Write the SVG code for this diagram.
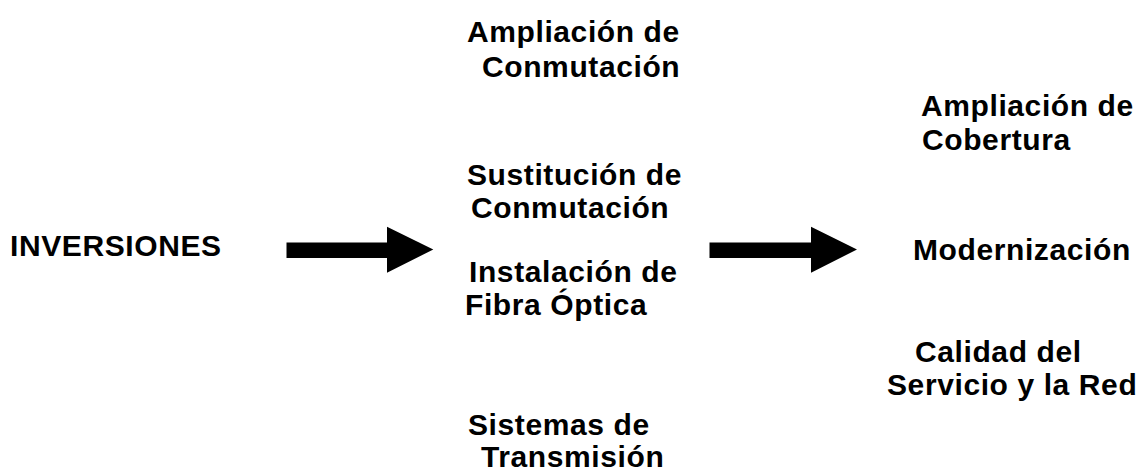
<svg xmlns="http://www.w3.org/2000/svg" width="1138" height="473" viewBox="0 0 1138 473">
<style>
text{font-family:"Liberation Sans",Arial,sans-serif;font-weight:bold;font-size:30px;letter-spacing:0.6px;fill:#000}
.arrow{fill:#000}
</style>
<rect width="1138" height="473" fill="#fff"/>
<g id="inversiones"><text x="10" y="256">INVERSIONES</text></g>
<g id="ampliacion-conmutacion"><text x="467" y="42">Ampliación de</text><text x="482" y="77">Conmutación</text></g>
<g id="sustitucion-conmutacion"><text x="467" y="185">Sustitución de</text><text x="471" y="218">Conmutación</text></g>
<g id="instalacion-fibra"><text x="469" y="282">Instalación de</text><text x="465" y="315">Fibra Óptica</text></g>
<g id="sistemas-transmision"><text x="468" y="435">Sistemas de</text><text x="481" y="467">Transmisión</text></g>
<g id="ampliacion-cobertura"><text x="921" y="116">Ampliación de</text><text x="922" y="150">Cobertura</text></g>
<g id="modernizacion"><text x="913" y="260">Modernización</text></g>
<g id="calidad"><text x="915" y="362">Calidad del</text><text x="887" y="395">Servicio y la Red</text></g>
<g id="connectors">
<path class="arrow" d="M286.5,242.5 H387 V226.7 L433.3,249.5 L387,272.7 V258 H286.5 Z"/>
<path class="arrow" d="M709.5,242.5 H811 V226.7 L857,249.5 L811,272.7 V258 H709.5 Z"/>
</g>
</svg>
